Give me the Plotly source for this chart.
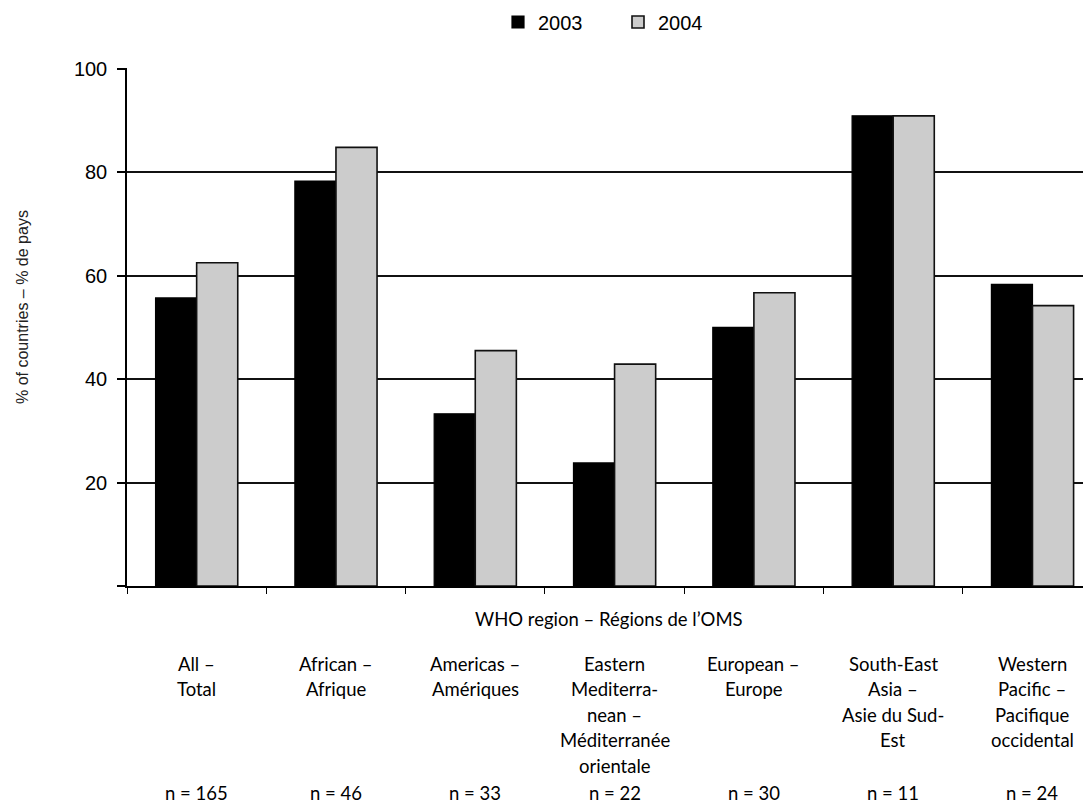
import plotly.graph_objects as go

categories = ["All", "African", "Americas", "Eastern Mediterranean", "European", "South-East Asia", "Western Pacific"]
label_lines = [
    ["All –", "Total"],
    ["African –", "Afrique"],
    ["Americas –", "Amériques"],
    ["Eastern", "Mediterra-", "nean –", "Méditerranée", "orientale"],
    ["European –", "Europe"],
    ["South-East", "Asia –", "Asie du Sud-", "Est"],
    ["Western", "Pacific –", "Pacifique", "occidental"],
]
n_labels = ["n = 165", "n = 46", "n = 33", "n = 22", "n = 30", "n = 11", "n = 24"]
values_2003 = [55.7, 78.3, 33.3, 23.8, 50.0, 90.9, 58.3]
values_2004 = [62.5, 84.8, 45.5, 42.9, 56.7, 90.9, 54.2]
y_tickvals = [0, 20, 40, 60, 80, 100]
y_ticktext = ["", "20", "40", "60", "80", "100"]

# page body has an 8px margin: size the figure so it fits the 1091x805 window
OFF = 8
W, H = 1091 - OFF, 805 - OFF
L, R, T, B = 127 - OFF, 0, 60, 219
plot_h = H - T - B
plot_w = W - L - R
plot_bottom = T + plot_h + OFF   # screen pixel of y=0

def py(screen_y):
    return (plot_bottom - screen_y) / plot_h

def px_x(screen_x):
    return (screen_x - (L + OFF)) / plot_w

fig = go.Figure()
fig.add_trace(go.Bar(name="2003", x=categories, y=values_2003,
                     marker=dict(color="#000000", line=dict(color="#000000", width=1.2))))
fig.add_trace(go.Bar(name="2004", x=categories, y=values_2004,
                     marker=dict(color="#cccccc", line=dict(color="#111111", width=1.6))))

label_font = dict(family="Liberation Sans Narrow, Arial Narrow, Lato, sans-serif", size=18.5, color="#000")
annotations = []
for i, lines in enumerate(label_lines):
    for j, line in enumerate(lines):
        annotations.append(dict(x=categories[i], xref="x", y=py(664 + 25.4 * j), yref="paper",
                                text=line, showarrow=False, xanchor="center", yanchor="middle",
                                font=label_font))
    annotations.append(dict(x=categories[i], xref="x", y=py(793), yref="paper",
                            text=n_labels[i], showarrow=False, xanchor="center", yanchor="middle",
                            font=label_font))
annotations.append(dict(x=px_x(609), xref="paper", y=py(619), yref="paper",
                        text="WHO region – Régions de l’OMS", showarrow=False,
                        xanchor="center", yanchor="middle", font=label_font))
annotations.append(dict(x=px_x(22), xref="paper", y=py(307), yref="paper",
                        text="% of countries – % de pays", showarrow=False, textangle=-90,
                        xanchor="center", yanchor="middle",
                        font=dict(family="Liberation Sans, Arial, sans-serif", size=16, color="#222")))

fig.update_layout(
    width=W, height=H,
    margin=dict(l=L, r=R, t=T, b=B, pad=0, autoexpand=False),
    paper_bgcolor="white", plot_bgcolor="white",
    barmode="group", bargap=0.41, bargroupgap=0.0,
    font=dict(family="Liberation Sans, Arial, sans-serif", size=20, color="#000"),
    legend=dict(orientation="h", x=px_x(618), xanchor="center", y=py(22), yanchor="middle",
                font=dict(size=20), entrywidth=75, bgcolor="rgba(0,0,0,0)"),
    showlegend=True,
    annotations=annotations,
)
fig.update_xaxes(type="category", range=[-0.5, 6.42], showline=True, linecolor="#000", linewidth=1.5,
                 ticks="outside", tickson="boundaries", ticklen=6, tickwidth=1.2, tickcolor="#000",
                 showticklabels=False, showgrid=False, zeroline=False, fixedrange=True)
fig.update_yaxes(range=[0, 100.15], tickvals=y_tickvals, ticktext=y_ticktext,
                 showline=True, linecolor="#000", linewidth=1.5,
                 ticks="outside", ticklen=8, tickwidth=1.5, tickcolor="#000", ticklabelstandoff=6,
                 showgrid=True, gridcolor="#111", gridwidth=2, zeroline=False,
                 tickfont=dict(size=20), fixedrange=True)

fig.write_html("out.html")
